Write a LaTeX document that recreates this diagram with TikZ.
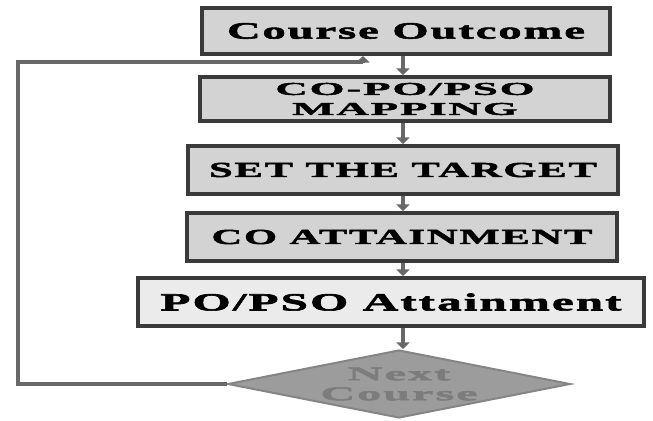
\documentclass[tikz,border=0pt]{standalone}
\usepackage{fontspec}
\setmainfont{Liberation Serif}
\newfontfamily\boxfont{Liberation Serif}[FakeStretch=2.0, LetterSpace=8, BoldFeatures={FakeBold=2.5}]
\newfontfamily\tipfont{Liberation Serif}[FakeStretch=2.5, LetterSpace=10, BoldFeatures={FakeBold=2.5}]
\usetikzlibrary{shapes.geometric, arrows.meta}
\definecolor{edgegray}{HTML}{3A3A3A}
\definecolor{boxgray}{HTML}{D3D3D3}
\definecolor{palegray}{HTML}{EBEBEB}
\definecolor{wiregray}{HTML}{686868}
\definecolor{diagray}{HTML}{9C9C9C}
\definecolor{dimtext}{HTML}{7C7C7C}
\tikzset{
  stepbox/.style={draw=edgegray, line width=3pt, fill=boxgray, inner sep=0pt, align=center,
    font=\boxfont\bfseries\fontsize{#1}{14}\selectfont},
  stepbox/.default=16,
  flow/.style={draw=wiregray, line width=2.8pt, -{Triangle[length=5pt,width=10pt]}}
}

\begin{document}
\begin{tikzpicture}[x=0.75pt,y=-0.75pt]
    \useasboundingbox (0,0) rectangle (653,421);
    \node (co) [stepbox=17.5, minimum width=306pt, minimum height=34.5pt] at (406,31) {Course Outcome};
    \node (map) [stepbox, font=\tipfont\bfseries\fontsize{13.5}{15}\selectfont,
      minimum width=308pt, minimum height=33pt] at (405,99) {CO-PO/PSO\\MAPPING};
    \node (tgt) [stepbox, minimum width=322.5pt, minimum height=36pt] at (403,170) {SET THE TARGET};
    \node (coa) [stepbox, minimum width=323pt, minimum height=36pt] at (402,237) {CO ATTAINMENT};
    \node (poa) [stepbox=18.5, fill=palegray, minimum width=380pt, minimum height=36pt] at (391,302) {PO/PSO Attainment};
    \node (nx) [diamond, draw=diagray!85!black, line width=1.5pt, fill=diagray, text=dimtext, inner sep=0pt,
      aspect=5, minimum width=257pt, minimum height=51pt, align=center,
      font=\tipfont\bfseries\fontsize{14.5}{15}\selectfont] at (399,384) {Next\\Course};

    \coordinate (spine) at (403,0);
    \draw[flow] (co.south -| spine) -- (map.north -| spine);
    \draw[flow] (map.south -| spine) -- (tgt.north -| spine);
    \draw[flow] (tgt.south -| spine) -- (coa.north -| spine);
    \draw[flow] (coa.south -| spine) -- (poa.north -| spine);
    \draw[flow] (poa.south -| spine) -- (nx.north -| spine);

    \coordinate (lc) at (18,62);
    \coordinate (rc) at (363,62);
    \draw[flow] (nx.west) -| (lc) -- (rc) -- (co.south -| rc);
\end{tikzpicture}
\end{document}
